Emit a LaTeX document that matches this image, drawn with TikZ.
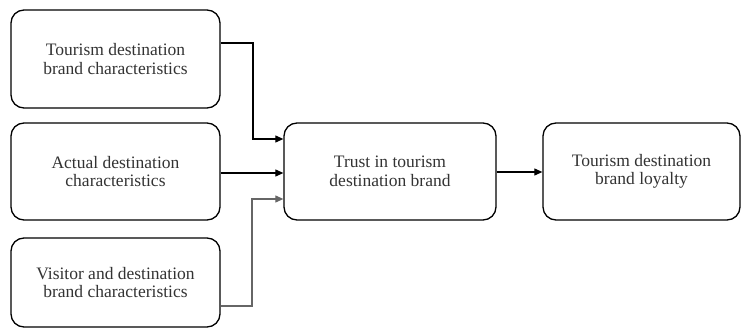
\documentclass[tikz,border=0pt]{standalone}
\usepackage{fontspec}
\setmainfont{Liberation Serif}
\usetikzlibrary{arrows.meta}
\begin{document}
\begin{tikzpicture}[x=1pt,y=-1pt,
  box/.style={draw, line width=1.3pt, rounded corners=13pt, align=center, font=\fontsize{17.5}{18.5}\selectfont, text=black!80},
  conn/.style={line width=1.1pt, -{Triangle[length=8pt,width=7pt]}}]
\useasboundingbox (0,0) rectangle (742,329);
\node[box, minimum width=209pt, minimum height=98pt] (b1) at (115.5,59) {Tourism destination\\brand characteristics};
\node[box, minimum width=209pt, minimum height=97pt] (b2) at (115.5,171.5) {Actual destination\\characteristics};
\node[box, minimum width=209pt, minimum height=89pt] (b3) at (115.5,282.5) {Visitor and destination\\brand characteristics};
\node[box, minimum width=212pt, minimum height=97pt] (c) at (390,171.5) {Trust in tourism\\destination brand};
\node[box, minimum width=197pt, minimum height=97pt] (r) at (641.5,171.5) {Tourism destination\\brand loyalty};
\coordinate (k1) at (253,43);
\coordinate (k3) at (252,306);
\draw[conn] (b1.east |- k1) -| (k1) |- (c.west |- 0,139);
\draw[conn] (b2.east |- 0,173) -- (c.west |- 0,173);
\draw[conn, black!60] (b3.east |- k3) -| (k3) |- (c.west |- 0,199);
\draw[conn] (c.east |- 0,172) -- (r.west |- 0,172);
\end{tikzpicture}
\end{document}
